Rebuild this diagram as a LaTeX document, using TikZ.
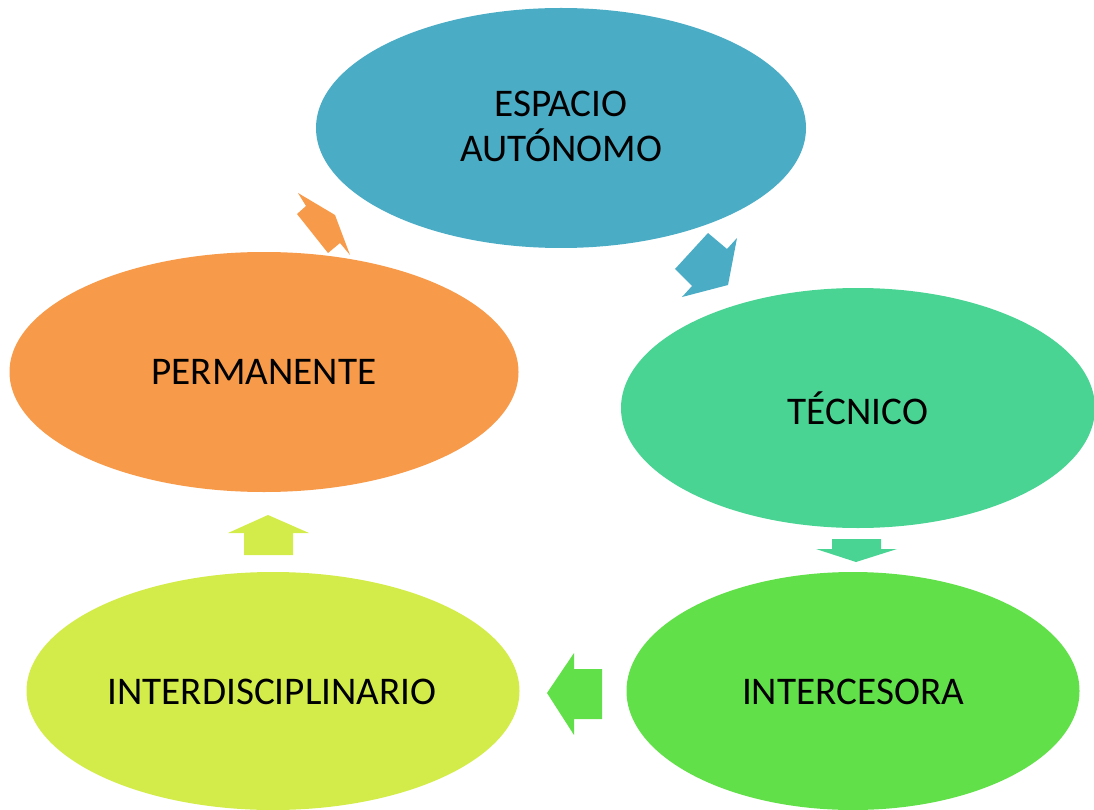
\documentclass[tikz,border=0pt]{standalone}
\usepackage{fontspec}
\setmainfont{Carlito}
\usetikzlibrary{shapes.geometric}
\definecolor{cblue}{RGB}{75,172,198}
\definecolor{cteal}{RGB}{74,212,148}
\definecolor{cgreen}{RGB}{98,224,74}
\definecolor{cyellow}{RGB}{212,236,74}
\definecolor{corange}{RGB}{247,154,74}
\begin{document}
\begin{tikzpicture}[x=1pt,y=-1pt,
  oval/.style={ellipse,inner sep=0pt,outer sep=0pt,align=center,
    font=\fontsize{39.2}{45}\selectfont,text=black}]
\useasboundingbox (0,0) rectangle (1094,810);
\node[oval,fill=cblue,minimum width=490pt,minimum height=240pt] (esp) at (561,128) {};
\node[oval,fill=cteal,minimum width=474pt,minimum height=240pt] (tec) at (858,408) {};
\node[oval,fill=cgreen,minimum width=453pt,minimum height=238pt] (int) at (853,691) {};
\node[oval,fill=cyellow,minimum width=493pt,minimum height=238pt] (dis) at (273,691) {};
\node[oval,fill=corange,minimum width=509pt,minimum height=240pt] (per) at (264,372) {};
\node[oval,anchor=base] (espt) at (561,116.7) {ESPACIO};
\node[oval,anchor=base] (espt2) at (561,161.7) {AUTÓNOMO};
\node[oval] (tect) at (858,408) {TÉCNICO};
\node[oval] (intt) at (853,692) {INTERCESORA};
\node[oval] (dist) at (272,692) {INTERDISCIPLINARIO};
\node[oval] (pert) at (264,371.5) {PERMANENTE};
% arrows
\fill[cblue] (708,233) -- (727,249) -- (737,238) -- (728,285) -- (682,297) -- (692,286) -- (675,269) -- cycle;
\fill[cteal] (832,539) -- (881,539) -- (881,549) -- (897,549) -- (856,562) -- (816,549) -- (832,549) -- cycle;
\fill[cgreen] (602,669) -- (602,719) -- (574,719) -- (574,735) -- (547,693) -- (574,653) -- (574,669) -- cycle;
\fill[cyellow] (244,555) -- (293,555) -- (293,533) -- (309,533) -- (268,515) -- (228,533) -- (244,533) -- cycle;
\fill[corange] (298,193) -- (335,215) -- (350,255) -- (340,243) -- (328,253) -- (297,214) -- (306,206) -- cycle;
\end{tikzpicture}
\end{document}
